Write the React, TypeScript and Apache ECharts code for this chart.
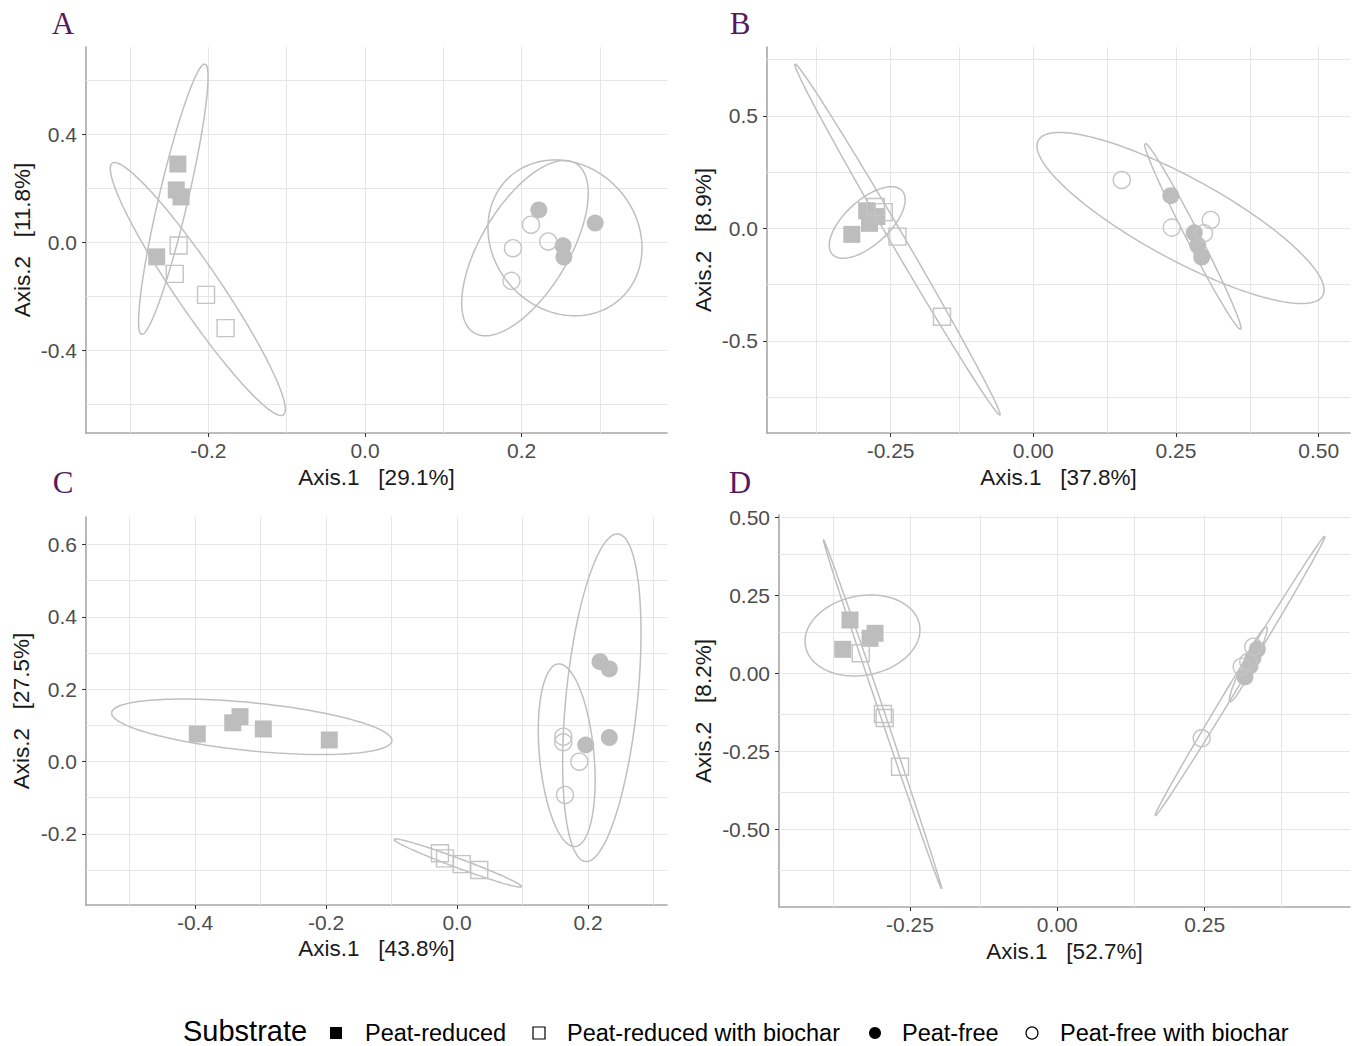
import React, { useEffect, useRef } from "react";
import * as echarts from "echarts";

// ---------- Panel A ----------
const aPeatReduced = [[-0.239, 0.291], [-0.241, 0.195], [-0.235, 0.169], [-0.266, -0.053]];
const aPeatReducedBiochar = [[-0.238, -0.011], [-0.243, -0.116], [-0.203, -0.194], [-0.178, -0.317]];
const aPeatFree = [[0.222, 0.121], [0.294, 0.072], [0.253, -0.012], [0.254, -0.054]];
const aPeatFreeBiochar = [[0.212, 0.066], [0.189, -0.021], [0.234, 0.004], [0.187, -0.142]];
// ellipse: centre x, centre y, half-axis 1 (dx, dy), half-axis 2 (dx, dy)
const aEllipses = [
  [-0.2448, 0.1607, 0.0405, 0.501, 0.0181, -0.0123],
  [-0.2135, -0.1722, -0.1092, 0.4663, 0.0238, 0.0469],
  [0.2554, 0.0174, 0.0707, -0.226, -0.0684, -0.18],
  [0.2043, -0.0207, 0.065, 0.314, 0.048, -0.0837],
];
const aXTicks = [-0.2, 0, 0.2];
const aYTicks = [-0.4, 0, 0.4];
const aXGrid = [-0.3, -0.2, -0.1, 0, 0.1, 0.2, 0.3];
const aYGrid = [-0.6, -0.4, -0.2, 0, 0.2, 0.4, 0.6];

// ---------- Panel B ----------
const bPeatReduced = [[-0.292, 0.078], [-0.318, -0.027], [-0.287, 0.022], [-0.274, 0.052]];
const bPeatReducedBiochar = [[-0.276, 0.095], [-0.262, 0.072], [-0.238, -0.037], [-0.16, -0.393]];
const bPeatFree = [[0.241, 0.145], [0.282, -0.02], [0.288, -0.075], [0.295, -0.128]];
const bPeatFreeBiochar = [[0.155, 0.215], [0.2425, 0.003], [0.311, 0.037], [0.299, -0.022]];
const bEllipses = [
  [-0.291, 0.0258, 0.0611, 0.1413, 0.0262, -0.0729],
  [-0.238, -0.0498, -0.1796, 0.78, 0.0106, 0.0157],
  [0.2795, -0.0356, -0.0838, 0.4133, 0.0104, 0.0136],
  [0.258, 0.0458, 0.2492, -0.3449, -0.0343, -0.1596],
];
const bXTicks = [-0.25, 0, 0.25, 0.5];
const bYTicks = [-0.5, 0, 0.5];
const bXGrid = [-0.375, -0.25, -0.125, 0, 0.125, 0.25, 0.375, 0.5];
const bYGrid = [-0.75, -0.5, -0.25, 0, 0.25, 0.5, 0.75];

// ---------- Panel C ----------
const cPeatReduced = [[-0.3965, 0.076], [-0.3424, 0.107], [-0.3313, 0.124], [-0.2957, 0.09], [-0.195, 0.0595]];
const cPeatReducedBiochar = [[-0.026, -0.254], [-0.0183, -0.268], [0.0072, -0.284], [0.034, -0.3]];
const cPeatFree = [[0.2183, 0.276], [0.2325, 0.256], [0.2325, 0.066], [0.1965, 0.0456]];
const cPeatFreeBiochar = [[0.1623, 0.0686], [0.1623, 0.053], [0.1867, -0.0006], [0.1649, -0.0927]];
const cEllipses = [
  [-0.3133, 0.096, -0.2139, 0.039, 0.00366, 0.0661],
  [0.0012, -0.2808, -0.0974, 0.0656, 0.0025, 0.0122],
  [0.2211, 0.1762, 0.0249, 0.4531, 0.0544, -0.0098],
  [0.1675, 0.0172, 0.01293, -0.2526, -0.0414, -0.00695],
];
const cXTicks = [-0.4, -0.2, 0, 0.2];
const cYTicks = [-0.2, 0, 0.2, 0.4, 0.6];
const cXGrid = [-0.5, -0.4, -0.3, -0.2, -0.1, 0, 0.1, 0.2, 0.3];
const cYGrid = [-0.3, -0.2, -0.1, 0, 0.1, 0.2, 0.3, 0.4, 0.5, 0.6];

// ---------- Panel D ----------
const dPeatReduced = [[-0.3518, 0.1706], [-0.3642, 0.0768], [-0.3178, 0.112], [-0.3093, 0.128]];
const dPeatReducedBiochar = [[-0.3336, 0.064], [-0.296, -0.13], [-0.293, -0.143], [-0.2669, -0.2989]];
const dPeatFree = [[0.3394, 0.0768], [0.332, 0.049], [0.327, 0.0234], [0.3185, -0.0118]];
const dPeatFreeBiochar = [[0.245, -0.208], [0.3129, 0.0211], [0.3326, 0.0851], [0.3241, 0.0371]];
const dEllipses = [
  [-0.3306, 0.121, 0.0967, 0.0347, 0.0126, -0.1248],
  [-0.2966, -0.1312, -0.1005, 0.56, 0.00402, 0.00256],
  [0.3241, 0.0291, 0.0312, 0.12, 0.0079, -0.0073],
  [0.31, -0.0086, 0.1442, 0.448, 0.00624, -0.00714],
];
const dXTicks = [-0.25, 0, 0.25];
const dYTicks = [-0.5, -0.25, 0, 0.25, 0.5];
const dXGrid = [-0.375, -0.25, -0.125, 0, 0.125, 0.25, 0.375];
const dYGrid = [-0.625, -0.5, -0.375, -0.25, -0.125, 0, 0.125, 0.25, 0.375, 0.5];

const panelLetters = ["A", "B", "C", "D"];
const xTitles = ["Axis.1   [29.1%]", "Axis.1   [37.8%]", "Axis.1   [43.8%]", "Axis.1   [52.7%]"];
const yTitles = ["Axis.2   [11.8%]", "Axis.2   [8.9%]", "Axis.2   [27.5%]", "Axis.2   [8.2%]"];
const groupNames = ["Peat-reduced", "Peat-reduced with biochar", "Peat-free", "Peat-free with biochar"];
const legendTitle = "Substrate";

const FONT = '"Liberation Sans", Arial, Helvetica, sans-serif';
const GREY = "#bdbdbd";

type Panel = {
  groups: number[][][];
  ellipses: number[][];
  xTicks: number[];
  yTicks: number[];
  xGrid: number[];
  yGrid: number[];
  xDec: number;
  yDec: number;
  xRange: [number, number];
  yRange: [number, number];
  box: { left: number; top: number; width: number; height: number };
  yNameGap: number;
  xNameGap: number;
};

const panels: Panel[] = [
  {
    groups: [aPeatReduced, aPeatReducedBiochar, aPeatFree, aPeatFreeBiochar],
    ellipses: aEllipses, xTicks: aXTicks, yTicks: aYTicks, xGrid: aXGrid, yGrid: aYGrid,
    xDec: 1, yDec: 1, xRange: [-0.3563, 0.3857], yRange: [-0.7059, 0.7248],
    box: { left: 86, top: 47, width: 581, height: 386 }, yNameGap: 52, xNameGap: 33,
  },
  {
    groups: [bPeatReduced, bPeatReducedBiochar, bPeatFree, bPeatFreeBiochar],
    ellipses: bEllipses, xTicks: bXTicks, yTicks: bYTicks, xGrid: bXGrid, yGrid: bYGrid,
    xDec: 2, yDec: 1, xRange: [-0.4666, 0.5549], yRange: [-0.9098, 0.8058],
    box: { left: 767, top: 47, width: 583, height: 386 }, yNameGap: 52, xNameGap: 33,
  },
  {
    groups: [cPeatReduced, cPeatReducedBiochar, cPeatFree, cPeatFreeBiochar],
    ellipses: cEllipses, xTicks: cXTicks, yTicks: cYTicks, xGrid: cXGrid, yGrid: cYGrid,
    xDec: 1, yDec: 1, xRange: [-0.5664, 0.3206], yRange: [-0.397, 0.6763],
    box: { left: 86, top: 517, width: 581, height: 388 }, yNameGap: 53, xNameGap: 32,
  },
  {
    groups: [dPeatReduced, dPeatReducedBiochar, dPeatFree, dPeatFreeBiochar],
    ellipses: dEllipses, xTicks: dXTicks, yTicks: dYTicks, xGrid: dXGrid, yGrid: dYGrid,
    xDec: 2, yDec: 2, xRange: [-0.4723, 0.4967], yRange: [-0.7478, 0.5066],
    box: { left: 779, top: 515, width: 571, height: 392 }, yNameGap: 64, xNameGap: 33,
  },
];

const letterPos = [[63, 23], [740, 23], [63, 482], [740, 482]];

function ellipseOutline(e: number[]) {
  const [cx, cy, ux, uy, vx, vy] = e;
  const pts: number[][] = [];
  const n = 160;
  for (let i = 0; i <= n; i++) {
    const t = (2 * Math.PI * i) / n;
    pts.push([cx + ux * Math.cos(t) + vx * Math.sin(t), cy + uy * Math.cos(t) + vy * Math.sin(t)]);
  }
  return pts;
}

const symbolFor = ["rect", "rect", "circle", "circle"];
const filledFor = [true, false, true, false];

function buildOption() {
  const grids: any[] = [];
  const xAxes: any[] = [];
  const yAxes: any[] = [];
  const series: any[] = [];
  const graphics: any[] = [];

  panels.forEach((p, i) => {
    grids.push({ ...p.box, containLabel: false });
    const axisCommon = {
      gridIndex: i,
      type: "value",
      splitLine: { show: false },
      axisLine: { show: true, onZero: false, lineStyle: { color: "#a6a6a6", width: 1.6 } },
      nameLocation: "middle",
      nameTextStyle: { color: "#1a1a1a", fontSize: 22.5, fontFamily: FONT },
    };
    xAxes.push({
      ...axisCommon,
      min: p.xRange[0],
      max: p.xRange[1],
      name: xTitles[i],
      nameGap: p.xNameGap,
      axisTick: { show: true, customValues: p.xTicks, length: 4, lineStyle: { color: "#333333", width: 1 } },
      axisLabel: {
        customValues: p.xTicks,
        formatter: (v: number) => v.toFixed(p.xDec),
        color: "#4d4d4d",
        fontSize: 21,
        fontFamily: FONT,
        margin: 7,
      },
    });
    yAxes.push({
      ...axisCommon,
      min: p.yRange[0],
      max: p.yRange[1],
      name: yTitles[i],
      nameGap: p.yNameGap,
      nameRotate: 90,
      axisTick: { show: true, customValues: p.yTicks, length: 4, lineStyle: { color: "#333333", width: 1 } },
      axisLabel: {
        customValues: p.yTicks,
        formatter: (v: number) => v.toFixed(p.yDec),
        color: "#4d4d4d",
        fontSize: 21,
        fontFamily: FONT,
        margin: 9,
      },
    });

    p.ellipses.forEach((e) => {
      series.push({
        type: "line",
        xAxisIndex: i,
        yAxisIndex: i,
        data: ellipseOutline(e),
        showSymbol: false,
        symbol: "none",
        smooth: false,
        silent: true,
        z: 2,
        lineStyle: { color: "#bfbfbf", width: 1.5 },
      });
    });

    p.groups.forEach((g, k) => {
      const filled = filledFor[k];
      const s: any = {
        type: "scatter",
        name: groupNames[k],
        xAxisIndex: i,
        yAxisIndex: i,
        data: g,
        symbol: symbolFor[k],
        symbolSize: 17,
        z: 3,
        itemStyle: filled
          ? { color: GREY, opacity: 1 }
          : { color: "rgba(0,0,0,0)", borderColor: "#c4c4c4", borderWidth: 1.4, opacity: 1 },
      };
      if (k === 0) {
        s.markLine = {
          silent: true,
          symbol: ["none", "none"],
          z: 1,
          label: { show: false },
          lineStyle: { color: "#e6e6e6", width: 1, type: "solid" },
          emphasis: { disabled: true },
          data: [
            ...p.xGrid.map((v) => ({ xAxis: v })),
            ...p.yGrid.map((v) => ({ yAxis: v })),
          ],
        };
      }
      series.push(s);
    });

    graphics.push({
      type: "text",
      x: letterPos[i][0],
      y: letterPos[i][1],
      style: {
        text: panelLetters[i],
        fontSize: 31,
        fontFamily: '"Liberation Serif", "Times New Roman", serif',
        fill: "#561a5c",
        textAlign: "center",
        textVerticalAlign: "middle",
      },
    });
  });

  // legend
  const ly = 1033;
  graphics.push({
    type: "text",
    x: 183,
    y: ly - 2,
    style: { text: legendTitle, fontSize: 29, fontFamily: FONT, fill: "#000", textVerticalAlign: "middle" },
  });
  const keyX = [336, 539, 875, 1032];
  const textX = [365, 567, 902, 1060];
  groupNames.forEach((nm, k) => {
    const filled = filledFor[k];
    if (symbolFor[k] === "rect") {
      graphics.push({
        type: "rect",
        shape: { x: keyX[k] - 6, y: ly - 6, width: 12, height: 12 },
        style: filled ? { fill: "#000" } : { fill: "none", stroke: "#000", lineWidth: 1.2 },
      });
    } else {
      graphics.push({
        type: "circle",
        shape: { cx: keyX[k], cy: ly, r: 6 },
        style: filled ? { fill: "#000" } : { fill: "none", stroke: "#000", lineWidth: 1.2 },
      });
    }
    graphics.push({
      type: "text",
      x: textX[k],
      y: ly,
      style: { text: nm, fontSize: 23.5, fontFamily: FONT, fill: "#000", textVerticalAlign: "middle" },
    });
  });

  return {
    animation: false,
    backgroundColor: "#ffffff",
    textStyle: { fontFamily: FONT },
    grid: grids,
    xAxis: xAxes,
    yAxis: yAxes,
    series,
    graphic: graphics,
  };
}

export default function App() {
  const ref = useRef<HTMLDivElement>(null);
  useEffect(() => {
    document.body.style.margin = "0";
    if (!ref.current) return;
    const chart = echarts.init(ref.current, undefined, { renderer: "svg" });
    chart.setOption(buildOption() as any);
    return () => {
      chart.dispose();
    };
  }, []);
  return <div ref={ref} style={{ width: 1355, height: 1046 }} />;
}
